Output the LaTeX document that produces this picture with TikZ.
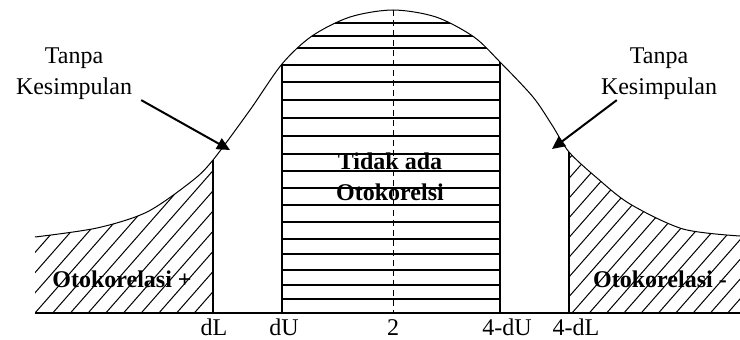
\documentclass[tikz,border=0pt]{standalone}
\usepackage{fontspec}
\setmainfont{Liberation Serif}
\usetikzlibrary{arrows.meta,positioning}

\newcommand\bellcurve{plot[smooth] coordinates {(35,237) (97,228) (147,212)
  (192,181) (213,160) (250,110) (282,64) (312,36) (350,17) (393,10) (436,17)
  (474,37) (500,62) (533,97) (552,125) (569,152) (597,178) (630,204) (683,229)
  (740,236)}}

\begin{document}
\begin{tikzpicture}[x=1pt, y=-1pt, >={Triangle[length=13pt,width=12pt]},
  font=\fontsize{24}{31}\selectfont,
  curve/.style={line width=1pt},
  bar/.style={line width=1.6pt},
  hatch/.style={line width=1pt},
  stripe/.style={line width=1.6pt},
  lbl/.style={inner sep=0pt, align=center},
  tag/.style={inner sep=0pt, align=center, font=\fontsize{24}{31}\selectfont\bfseries},
  arr/.style={->, line width=2pt}]
\useasboundingbox (0,0) rectangle (740,340);

% no autocorrelation: horizontal stripes
\begin{scope}
  \clip (282,0) rectangle (500,313);
  \clip \bellcurve -- (740,313) -- (35,313) -- cycle;
  \foreach \y in {23,36,48,65,82,100,118,136,154,171,188,205,222,239,254,270,285,299}
    \draw[stripe] (282,\y) -- (500,\y);
\end{scope}
% positive / negative autocorrelation: hatching
\begin{scope}
  \clip (35,0) rectangle (213,313);
  \clip \bellcurve -- (740,313) -- (35,313) -- cycle;
  \foreach \k in {-15,...,11}
    \draw[hatch] (35+17.7*\k,313) -- ++(250,-285);
\end{scope}
\begin{scope}
  \clip (569,0) rectangle (740,313);
  \clip \bellcurve -- (740,313) -- (35,313) -- cycle;
  \foreach \k in {-15,...,11}
    \draw[hatch] (572+17.3*\k,313) -- ++(250,-285);
\end{scope}

\draw[curve] \bellcurve;
\draw[bar] (35,313) -- (740,313);
\draw[line width=1pt, dash pattern=on 6pt off 4pt] (393,10) -- (393,313);
\foreach \x/\t in {213/160, 282/64, 500/62, 569/152}
  \draw[bar] (\x,313) -- (\x,\t);

% axis labels
\node[lbl, anchor=base] (ldL) at (214,335) {dL};
\node[lbl, anchor=base] (ldU) at (284,335) {dU};
\node[lbl, anchor=base] (ltwo) at (393,335) {2};
\node[lbl, anchor=base] (l4dU) at (507,335) {4-dU};
\node[lbl, anchor=base] (l4dL) at (576,335) {4-dL};

% region labels
\node[tag] (otoplus) at (122,279) {Otokorelasi +};
\node[tag] (otominus) at (660,279) {Otokorelasi -};
\node[tag] (tidak) at (390,177) {Tidak ada\\Otokorelsi};

% inconclusive zones
\node[lbl] (tkl) at (74,74) {Tanpa\\Kesimpulan};
\node[lbl] (tkr) at (659,74) {Tanpa\\Kesimpulan};
\coordinate (tipl) at (230,150);
\coordinate (tipr) at (552,149);
\draw[arr] ([xshift=9pt]tkl.south east) -- (tipl);
\draw[arr] ([xshift=16pt]tkr.south west) -- (tipr);
\end{tikzpicture}
\end{document}
